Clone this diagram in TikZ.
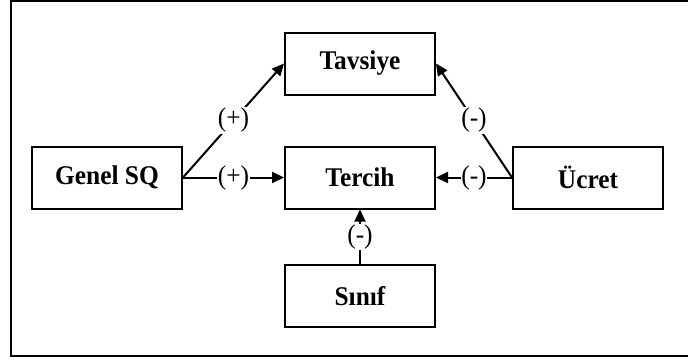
\documentclass[tikz,border=0pt]{standalone}
\usepackage{fontspec}
\setmainfont{Liberation Serif}
\newfontfamily\boxfont[FakeStretch=0.94]{Liberation Serif}
\usetikzlibrary{arrows.meta}
\begin{document}
\begin{tikzpicture}[x=1pt,y=-1pt,
  box/.style={draw, line width=2pt, minimum width=150pt, minimum height=62pt, inner sep=0pt,
    font=\boxfont\bfseries\fontsize{27}{30}\selectfont},
  lbl/.style={fill=white, inner sep=0.8pt, font=\boxfont\fontsize{27}{30}\selectfont},
  arr/.style={line width=2pt, -{Triangle[length=12pt,width=11pt]}}]
\useasboundingbox (0,0) rectangle (688,360);
\draw[line width=2pt] (11,1) rectangle (700,356);
\node[box] (tav) at (360,63.5) {Tavsiye};
\node[box] (ter) at (360,177.5) {Tercih};
\node[box] (gen) at (107,177.5) {Genel SQ};
\node[box] (ucr) at (588,177.5) {Ücret};
\node[box] (sin) at (360,296) {Sınıf};
\draw[arr] (gen.east) -- node[lbl]{(+)} (tav.west);
\draw[arr] (gen.east) -- node[lbl]{(+)} (ter.west);
\draw[arr] (ucr.west) -- node[lbl]{(-)} (tav.east);
\draw[arr] (ucr.west) -- node[lbl]{(-)} (ter.east);
\draw[arr] (sin.north) -- node[lbl]{(-)} (ter.south);
\end{tikzpicture}
\end{document}
